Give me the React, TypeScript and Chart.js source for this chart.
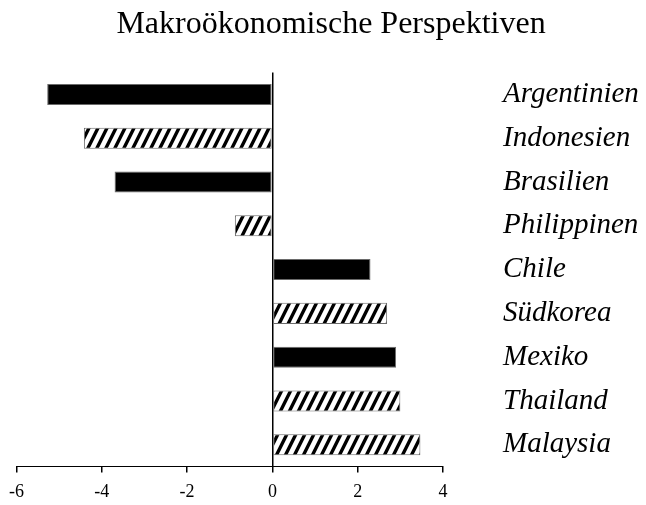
import React, { useEffect, useRef } from "react";
import { Chart, registerables } from "chart.js";

Chart.register(...registerables);

const TITLE = "Makroökonomische Perspektiven";
const countries = [
  "Argentinien",
  "Indonesien",
  "Brasilien",
  "Philippinen",
  "Chile",
  "Südkorea",
  "Mexiko",
  "Thailand",
  "Malaysia",
];
const values = [-5.28, -4.42, -3.7, -0.88, 2.3, 2.69, 2.9, 3.0, 3.47];
const hatched = [false, true, false, true, false, true, false, true, true];
const xMin = -6;
const xMax = 4;
const xStep = 2;

const FONT = '"Liberation Serif", "Times New Roman", serif';

function makeHatch(): CanvasPattern | string {
  const w = 9;
  const h = 18;
  const c = document.createElement("canvas");
  c.width = w;
  c.height = h;
  const g = c.getContext("2d");
  if (!g) return "#fff";
  g.fillStyle = "#fff";
  g.fillRect(0, 0, w, h);
  g.strokeStyle = "#000";
  g.lineWidth = 3.4;
  g.beginPath();
  for (let k = -1; k <= 1; k++) {
    const x0 = k * w;
    g.moveTo(x0 - 1, h + 2);
    g.lineTo(x0 + w + 1, -2);
  }
  g.stroke();
  const p = g.createPattern(c, "repeat");
  return p || "#fff";
}

export default function App() {
  const ref = useRef<HTMLCanvasElement | null>(null);

  useEffect(() => {
    if (!ref.current) return;
    const hatch = makeHatch();
    const fills = hatched.map((h) => (h ? hatch : "#000"));
    const chart = new Chart(ref.current, {
      type: "bar",
      data: {
        labels: countries,
        datasets: [
          {
            data: values,
            backgroundColor: fills as any,
            borderColor: "#6a6a6a",
            borderWidth: 1,
            borderSkipped: false,
            barPercentage: 0.48,
            categoryPercentage: 1,
          },
        ],
      },
      options: {
        indexAxis: "y",
        responsive: false,
        animation: false,
        devicePixelRatio: 1,
        layout: { padding: { left: 16, right: 0, top: 0, bottom: 0 } },
        plugins: {
          legend: { display: false },
          tooltip: { enabled: false },
          title: {
            display: true,
            text: TITLE,
            color: "#000",
            font: { family: FONT, size: 32, weight: "normal" },
            padding: { top: 5, bottom: 29.2 },
          },
        },
        scales: {
          x: {
            type: "linear",
            min: xMin,
            max: xMax,
            position: "bottom",
            ticks: {
              stepSize: xStep,
              color: "#000",
              padding: 9,
              font: { family: FONT, size: 18 },
            },
            grid: {
              display: true,
              drawOnChartArea: true,
              color: (ctx: any) =>
                ctx.tick && ctx.tick.value === 0 ? "#000" : "rgba(0,0,0,0)",
              tickColor: "#000",
              tickLength: 6,
              lineWidth: 1.5,
            },
            border: { display: true, color: "#000", width: 1 },
            afterFit: (scale: any) => {
              scale.height = 38.4;
            },
          },
          y: {
            type: "category",
            position: "right",
            offset: true,
            grid: { display: false, drawTicks: false },
            border: { display: false },
            ticks: {
              color: "#000",
              padding: 60,
              font: { family: FONT, size: 29, style: "italic" },
            },
            afterFit: (scale: any) => {
              scale.width = 203;
              scale.paddingTop = 0;
              scale.paddingBottom = 0;
            },
          },
        },
      },
    });
    return () => chart.destroy();
  }, []);

  return (
    <div style={{ position: "absolute", left: 0, top: 0, width: 646, height: 505 }}>
      <canvas ref={ref} width={646} height={505} style={{ display: "block" }} />
    </div>
  );
}
